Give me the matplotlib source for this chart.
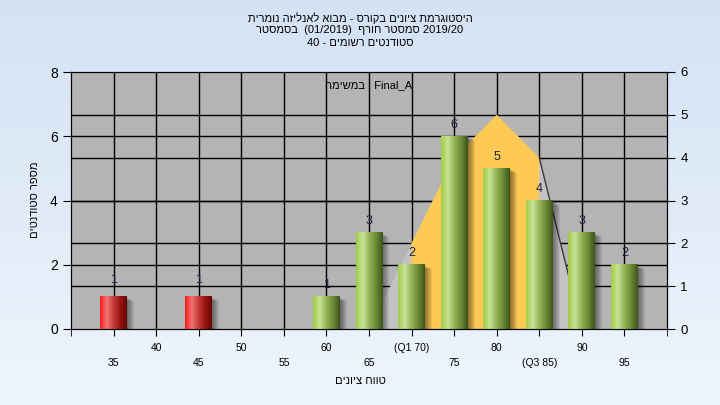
import numpy as np
import matplotlib
matplotlib.use("Agg")
import matplotlib.pyplot as plt
import matplotlib.transforms as mtransforms
from matplotlib.colors import LinearSegmentedColormap
from matplotlib.patches import Rectangle

plt.rcParams['font.family'] = ['Liberation Sans', 'DejaVu Sans']


def heb(s):
    # matplotlib has no bidi, so Hebrew runs are given in visual order
    return s[::-1]


# data
grades = [35, 40, 45, 50, 55, 60, 65, 70, 75, 80, 85, 90, 95]
counts = [1, 0, 1, 0, 0, 1, 3, 2, 6, 5, 4, 3, 2]
pass_grade = 55
q1, q3 = 70, 85
dist_grades = [65, 70, 75, 80, 85, 90]
dist_vals = [0, 2, 4, 5, 4, 0]
n_students = 40

title_1 = heb("היסטוגרמת ציונים בקורס - מבוא לאנליזה נומרית")
title_2 = heb("בסמסטר") + "  (01/2019)  " + heb("סמסטר חורף") + " 2019/20"
title_3 = "%d - " % n_students + heb("סטודנטים רשומים")
task_label = heb("במשימה") + " : Final_A"
x_title = heb("טווח ציונים")
y_title = heb("מספר סטודנטים")

tick_labels = []
for i, g in enumerate(grades):
    lab = str(g)
    if g == q1:
        lab = "(Q1 %d)" % g
    if g == q3:
        lab = "(Q3 %d)" % g
    tick_labels.append(lab if i % 2 == 1 else "\n" + lab)

fig = plt.figure(figsize=(7.2, 4.05), dpi=100)

# background gradient
bg = fig.add_axes([0, 0, 1, 1], zorder=-10)
grad = np.linspace(0, 1, 256).reshape(-1, 1)
bg.imshow(grad, aspect='auto', extent=(0, 1, 0, 1),
          cmap=LinearSegmentedColormap.from_list('bg', ['#d4e2f4', '#eef5fc']))
bg.axis('off')

ax = fig.add_axes([71/720, 1-329/405, (667-71)/720, (329-72)/405])
ax2 = ax.twinx()
ax.set_facecolor('#b4b4b4')
ax.set_xlim(30, 100)
ax.set_ylim(0, 8)
ax2.set_ylim(0, 6)
ax.set_autoscale_on(False)

# grid from both axes
for g in grades:
    ax.axvline(g, color='black', lw=1, zorder=1)
for v in [2, 4, 6]:
    ax.axhline(v, color='black', lw=1, zorder=1)
right_grid = mtransforms.blended_transform_factory(ax.transAxes, ax2.transData)
for v in [1, 2, 3, 4, 5]:
    ax.plot([0, 1], [v, v], color='black', lw=1, zorder=1, transform=right_grid)

# distribution area (right axis)
ax.fill(dist_grades, dist_vals, color='#c3c3c3', lw=0, zorder=1.5, transform=ax2.transData)
iq = [i for i, g in enumerate(dist_grades) if q1 <= g <= q3]
yx = [dist_grades[iq[0]]] + [dist_grades[i] for i in iq] + [dist_grades[iq[-1]]]
yy = [0] + [dist_vals[i] for i in iq] + [0]
ax.fill(yx, yy, color='#ffc956', lw=0, zorder=1.6, transform=ax2.transData)
ax.plot(dist_grades[-2:], dist_vals[-2:], color='#3a3a3a', lw=1, zorder=1.7,
        transform=ax2.transData)

# bars with cylinder shading
green = LinearSegmentedColormap.from_list('g', ['#9fcc45', '#c9e396', '#93b456', '#6b8a36', '#3d5519'])
red = LinearSegmentedColormap.from_list('r', ['#ff1818', '#f07676', '#c83a3a', '#9a1414', '#6a0606'])
shade = np.linspace(0, 1, 64).reshape(1, -1)
w = 3.15
for g, c in zip(grades, counts):
    if c == 0:
        continue
    cmap = red if g < pass_grade else green
    for k in range(1, 8):
        off = mtransforms.ScaledTranslation(k/100, -k*0.6/100, fig.dpi_scale_trans)
        ax.add_patch(Rectangle((g - w/2, 0), w, c, color='black', alpha=0.07,
                               lw=0, zorder=2.5, transform=ax.transData + off))
    ax.imshow(shade, aspect='auto', cmap=cmap, extent=(g - w/2, g + w/2, 0, c),
              zorder=3, interpolation='bilinear')
    ax.annotate(str(c), (g, c), xytext=(0, 8 if g < pass_grade else 4),
                textcoords='offset points', ha='center', va='bottom',
                fontsize=9, color='#1e2040', zorder=4)

ax.set_xlim(30, 100)
ax.set_ylim(0, 8)

ax.set_xticks(grades)
ax.set_xticklabels(tick_labels, fontsize=7.5)
for lab in ax.get_xticklabels():
    lab.set_linespacing(1.65)
ax.set_xticks([30, 100], minor=True)
ax.tick_params(axis='x', which='both', length=5, color='black', pad=5)
ax.set_yticks([0, 2, 4, 6, 8])
ax.tick_params(axis='y', labelsize=10, length=6)
ax2.set_yticks(range(7))
ax2.tick_params(axis='y', labelsize=9.5, length=6)
for a in (ax, ax2):
    for s in a.spines.values():
        s.set_color('black')

ax.text(0.5, 0.95, task_label, transform=ax.transAxes, ha='center', va='center',
        fontsize=8, zorder=5)

fig.text(0.5, 1-18/405, title_1, ha='center', va='center', fontsize=8)
fig.text(0.5, 1-30/405, title_2, ha='center', va='center', fontsize=8)
fig.text(0.5, 1-43/405, title_3, ha='center', va='center', fontsize=8)
fig.text(0.5, 1-381/405, x_title, ha='center', va='center', fontsize=8)
fig.text(35/720, 1-200/405, y_title, ha='center', va='center', fontsize=8, rotation=90)

fig.savefig("out.png", dpi=100)
